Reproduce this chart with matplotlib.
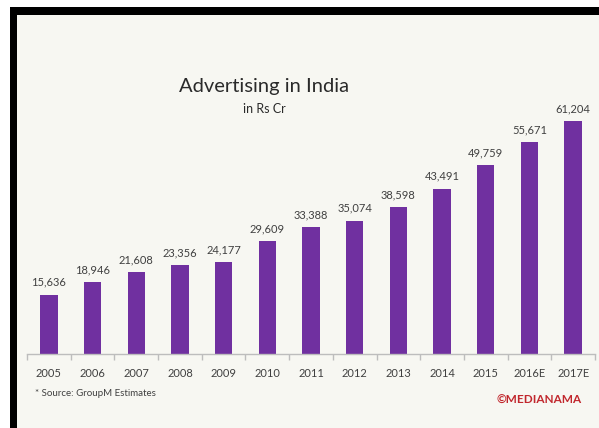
import numpy as np
import matplotlib.pyplot as plt
from matplotlib.patches import Rectangle

# Advertising spend in India, Rs crore (GroupM)
years = ["2005", "2006", "2007", "2008", "2009", "2010", "2011",
         "2012", "2013", "2014", "2015", "2016E", "2017E"]
spend = [15636, 18946, 21608, 23356, 24177, 29609, 33388,
         35074, 38598, 43491, 49759, 55671, 61204]

purple = "#7030a0"
text_col = "#404040"
plt.rcParams['font.family'] = ['Lato', 'DejaVu Sans']

fig = plt.figure(figsize=(5.99, 4.28), dpi=100)
fig.patch.set_facecolor("white")

# off-white card with a black frame on the top and left
fig.patches.append(Rectangle((0.0284, 0), 0.9716, 0.965, transform=fig.transFigure,
                             facecolor="#f7f7f2", edgecolor="none", zorder=-2))
fig.patches.append(Rectangle((0.0167, 0.965), 0.9833, 0.0187, transform=fig.transFigure,
                             facecolor="black", edgecolor="none", zorder=-1))
fig.patches.append(Rectangle((0.0167, 0), 0.0117, 0.9836, transform=fig.transFigure,
                             facecolor="black", edgecolor="none", zorder=-1))

ax = fig.add_axes([0.0451, 0.1729, 0.9482, 0.6215])
ax.set_zorder(2)
ax.set_facecolor("none")

x = np.arange(len(years))
bars = ax.bar(x, spend, width=0.4, color=purple, zorder=2)

for xi, v in zip(x, spend):
    ax.annotate(f"{v:,}", (xi, v), xytext=(0, 5), textcoords="offset points",
                ha="center", va="bottom", fontsize=8, color=text_col)

ax.set_xlim(-0.5, len(years) - 0.5)
ax.set_ylim(0, 70000)

for side in ["top", "right", "left"]:
    ax.spines[side].set_visible(False)
ax.spines["bottom"].set_color("#bdbdbd")
ax.spines["bottom"].set_linewidth(1)

ax.set_yticks([])
ax.set_xticks(x)
ax.set_xticklabels(years, fontsize=8, color=text_col)
ax.tick_params(axis="x", which="major", length=0, pad=10)
ax.set_xticks(np.arange(-0.5, len(years)), minor=True)
ax.tick_params(axis="x", which="minor", length=4, color="#bdbdbd", width=1)

fig.text(0.441, 0.785, "Advertising in India", ha="center", va="baseline",
         fontsize=14.5, color="#2a2a2a")
fig.text(0.441, 0.736, "in Rs Cr", ha="center", va="baseline",
         fontsize=9, color="#2a2a2a")

fig.text(0.058, 0.081, "* Source: GroupM Estimates", ha="left", va="center",
         fontsize=7, color=text_col)
fig.text(0.971, 0.065, "\u00a9MEDIANAMA", ha="right", va="center",
         fontsize=8.5, color="#c1272d", fontweight="bold")

fig.savefig("out.png", dpi=100)
